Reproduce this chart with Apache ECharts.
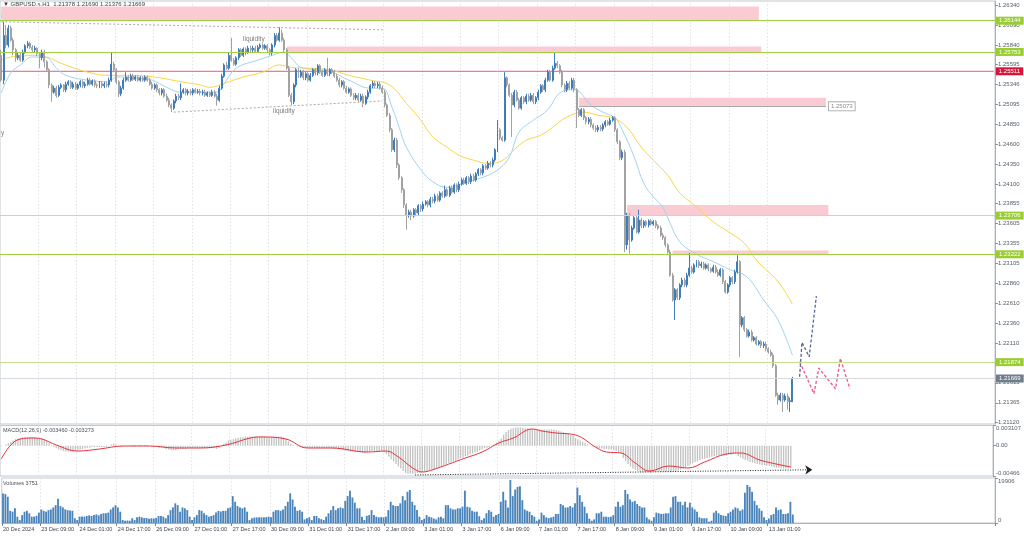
<!DOCTYPE html>
<html><head><meta charset="utf-8">
<script src="https://cdn.jsdelivr.net/npm/echarts@6/dist/echarts.min.js"></script>
<style>html,body{margin:0;padding:0;background:#fff;}#c{width:1024px;height:537px;}</style>
</head><body><div id="c"></div>
<script>
// ---------- DATA ----------
const timeLabels = ["20 Dec 2024","23 Dec 09:00","24 Dec 01:00","24 Dec 17:00","26 Dec 09:00","27 Dec 01:00","27 Dec 17:00","30 Dec 09:00","31 Dec 01:00","31 Dec 17:00","2 Jan 09:00","3 Jan 01:00","3 Jan 17:00","6 Jan 09:00","7 Jan 01:00","7 Jan 17:00","8 Jan 09:00","9 Jan 01:00","9 Jan 17:00","10 Jan 09:00","13 Jan 01:00"];
const barsPerLabel = 16;
const slotCount = 415;

// [open, close, low, high]
const candles = [
[1.2571,1.2540,1.2538,1.2578],[1.2540,1.2596,1.2535,1.2613],[1.2596,1.2584,1.2580,1.2609],[1.2584,1.2605,1.2581,1.2609],[1.2605,1.2590,1.2588,1.2608],
[1.2590,1.2578,1.2571,1.2593],[1.2578,1.2568,1.2563,1.2580],[1.2568,1.2571,1.2565,1.2575],[1.2571,1.2565,1.2563,1.2574],[1.2565,1.2575,1.2563,1.2578],
[1.2575,1.2583,1.2573,1.2585],[1.2583,1.2586,1.2580,1.2589],[1.2586,1.2581,1.2579,1.2588],[1.2581,1.2578,1.2575,1.2584],[1.2578,1.2580,1.2574,1.2583],
[1.2580,1.2573,1.2570,1.2581],[1.2573,1.2568,1.2555,1.2575],[1.2568,1.2575,1.2565,1.2578],[1.2575,1.2563,1.2556,1.2578],[1.2563,1.2553,1.2550,1.2565],
[1.2553,1.2534,1.2530,1.2555],[1.2534,1.2525,1.2513,1.2536],[1.2525,1.2530,1.2523,1.2533],[1.2530,1.2521,1.2518,1.2533],[1.2521,1.2531,1.2519,1.2534],
[1.2531,1.2534,1.2529,1.2536],[1.2534,1.2528,1.2525,1.2535],[1.2528,1.2535,1.2525,1.2538],[1.2535,1.2538,1.2533,1.2540],[1.2538,1.2531,1.2529,1.2540],
[1.2531,1.2535,1.2529,1.2538],[1.2535,1.2530,1.2528,1.2538],[1.2530,1.2534,1.2528,1.2536],[1.2534,1.2538,1.2531,1.2540],[1.2538,1.2533,1.2530,1.2540],
[1.2533,1.2535,1.2530,1.2538],[1.2535,1.2540,1.2533,1.2543],[1.2540,1.2535,1.2533,1.2543],[1.2535,1.2539,1.2533,1.2541],[1.2539,1.2534,1.2531,1.2541],
[1.2534,1.2533,1.2530,1.2536],[1.2533,1.2536,1.2530,1.2539],[1.2536,1.2533,1.2530,1.2539],[1.2533,1.2535,1.2530,1.2538],[1.2535,1.2534,1.2531,1.2538],
[1.2534,1.2540,1.2531,1.2543],[1.2540,1.2560,1.2538,1.2574],[1.2560,1.2553,1.2550,1.2563],[1.2553,1.2538,1.2535,1.2555],[1.2538,1.2523,1.2519,1.2540],
[1.2523,1.2530,1.2520,1.2533],[1.2530,1.2540,1.2528,1.2543],[1.2540,1.2544,1.2538,1.2550],[1.2544,1.2540,1.2538,1.2546],[1.2540,1.2545,1.2538,1.2548],
[1.2545,1.2541,1.2539,1.2548],[1.2541,1.2544,1.2539,1.2546],[1.2544,1.2540,1.2538,1.2546],[1.2540,1.2543,1.2538,1.2545],[1.2543,1.2540,1.2538,1.2545],
[1.2540,1.2544,1.2538,1.2546],[1.2544,1.2540,1.2538,1.2546],[1.2540,1.2535,1.2533,1.2543],[1.2535,1.2530,1.2528,1.2538],[1.2530,1.2534,1.2528,1.2536],
[1.2534,1.2528,1.2525,1.2536],[1.2528,1.2524,1.2521,1.2530],[1.2524,1.2528,1.2521,1.2530],[1.2528,1.2520,1.2518,1.2530],[1.2520,1.2515,1.2513,1.2523],
[1.2515,1.2509,1.2506,1.2518],[1.2509,1.2505,1.2500,1.2511],[1.2505,1.2514,1.2503,1.2516],[1.2514,1.2520,1.2511,1.2523],[1.2520,1.2518,1.2515,1.2523],
[1.2518,1.2525,1.2515,1.2536],[1.2525,1.2528,1.2523,1.2530],[1.2528,1.2524,1.2521,1.2530],[1.2524,1.2526,1.2521,1.2529],[1.2526,1.2524,1.2521,1.2529],
[1.2524,1.2528,1.2521,1.2530],[1.2528,1.2525,1.2523,1.2530],[1.2525,1.2526,1.2523,1.2529],[1.2526,1.2524,1.2521,1.2529],[1.2524,1.2525,1.2521,1.2528],
[1.2525,1.2521,1.2519,1.2528],[1.2521,1.2524,1.2519,1.2526],[1.2524,1.2521,1.2519,1.2526],[1.2521,1.2525,1.2519,1.2528],[1.2525,1.2520,1.2518,1.2528],
[1.2520,1.2515,1.2508,1.2523],[1.2515,1.2530,1.2513,1.2533],[1.2530,1.2545,1.2528,1.2548],[1.2545,1.2559,1.2543,1.2561],[1.2559,1.2555,1.2553,1.2563],
[1.2555,1.2571,1.2553,1.2574],[1.2571,1.2565,1.2563,1.2593],[1.2565,1.2560,1.2558,1.2568],[1.2560,1.2568,1.2558,1.2570],[1.2568,1.2578,1.2565,1.2580],
[1.2578,1.2571,1.2569,1.2580],[1.2571,1.2579,1.2569,1.2581],[1.2579,1.2575,1.2571,1.2581],[1.2575,1.2580,1.2573,1.2583],[1.2580,1.2578,1.2575,1.2583],
[1.2578,1.2580,1.2575,1.2583],[1.2580,1.2576,1.2574,1.2583],[1.2576,1.2581,1.2574,1.2584],[1.2581,1.2584,1.2579,1.2586],[1.2584,1.2580,1.2578,1.2586],
[1.2580,1.2583,1.2578,1.2585],[1.2583,1.2578,1.2575,1.2585],[1.2578,1.2574,1.2571,1.2580],[1.2574,1.2584,1.2571,1.2586],[1.2584,1.2596,1.2581,1.2599],
[1.2596,1.2590,1.2588,1.2599],[1.2590,1.2599,1.2588,1.2606],[1.2599,1.2590,1.2588,1.2603],[1.2590,1.2578,1.2575,1.2593],[1.2578,1.2555,1.2553,1.2580],
[1.2555,1.2521,1.2519,1.2558],[1.2521,1.2513,1.2509,1.2524],[1.2513,1.2534,1.2510,1.2536],[1.2534,1.2553,1.2531,1.2555],[1.2553,1.2545,1.2543,1.2555],
[1.2545,1.2550,1.2543,1.2553],[1.2550,1.2543,1.2540,1.2553],[1.2543,1.2548,1.2540,1.2550],[1.2548,1.2540,1.2538,1.2550],[1.2540,1.2546,1.2538,1.2549],
[1.2546,1.2553,1.2544,1.2555],[1.2553,1.2549,1.2546,1.2555],[1.2549,1.2558,1.2546,1.2560],[1.2558,1.2550,1.2548,1.2560],[1.2550,1.2546,1.2544,1.2553],
[1.2546,1.2553,1.2544,1.2555],[1.2553,1.2548,1.2545,1.2568],[1.2548,1.2553,1.2545,1.2555],[1.2553,1.2550,1.2548,1.2555],[1.2550,1.2545,1.2543,1.2553],
[1.2545,1.2540,1.2538,1.2548],[1.2540,1.2534,1.2531,1.2543],[1.2534,1.2538,1.2531,1.2540],[1.2538,1.2530,1.2528,1.2540],[1.2530,1.2525,1.2523,1.2533],
[1.2525,1.2529,1.2523,1.2531],[1.2529,1.2521,1.2519,1.2531],[1.2521,1.2518,1.2515,1.2524],[1.2518,1.2521,1.2515,1.2524],[1.2521,1.2515,1.2513,1.2524],
[1.2515,1.2520,1.2513,1.2523],[1.2520,1.2511,1.2506,1.2523],[1.2511,1.2519,1.2509,1.2521],[1.2519,1.2525,1.2516,1.2528],[1.2525,1.2533,1.2523,1.2535],
[1.2533,1.2536,1.2530,1.2539],[1.2536,1.2533,1.2530,1.2539],[1.2533,1.2535,1.2530,1.2538],[1.2535,1.2530,1.2528,1.2538],[1.2530,1.2525,1.2523,1.2533],
[1.2525,1.2509,1.2506,1.2528],[1.2509,1.2496,1.2494,1.2511],[1.2496,1.2478,1.2475,1.2499],[1.2478,1.2453,1.2450,1.2480],[1.2453,1.2465,1.2450,1.2468],
[1.2465,1.2434,1.2430,1.2468],[1.2434,1.2418,1.2415,1.2436],[1.2418,1.2403,1.2399,1.2420],[1.2403,1.2384,1.2380,1.2405],[1.2384,1.2371,1.2353,1.2386],
[1.2371,1.2375,1.2368,1.2378],[1.2375,1.2370,1.2365,1.2378],[1.2370,1.2378,1.2368,1.2380],[1.2378,1.2374,1.2370,1.2380],[1.2374,1.2383,1.2371,1.2385],
[1.2383,1.2379,1.2375,1.2385],[1.2379,1.2385,1.2376,1.2388],[1.2385,1.2388,1.2383,1.2390],[1.2388,1.2384,1.2381,1.2390],[1.2384,1.2391,1.2381,1.2394],
[1.2391,1.2389,1.2386,1.2394],[1.2389,1.2395,1.2386,1.2398],[1.2395,1.2390,1.2388,1.2398],[1.2390,1.2399,1.2388,1.2401],[1.2399,1.2395,1.2393,1.2401],
[1.2395,1.2403,1.2393,1.2408],[1.2403,1.2396,1.2394,1.2405],[1.2396,1.2405,1.2394,1.2408],[1.2405,1.2400,1.2398,1.2408],[1.2400,1.2409,1.2398,1.2411],
[1.2409,1.2403,1.2400,1.2411],[1.2403,1.2410,1.2400,1.2413],[1.2410,1.2415,1.2408,1.2418],[1.2415,1.2411,1.2409,1.2418],[1.2411,1.2418,1.2409,1.2420],
[1.2418,1.2413,1.2410,1.2420],[1.2413,1.2420,1.2410,1.2423],[1.2420,1.2415,1.2413,1.2423],[1.2415,1.2423,1.2413,1.2425],[1.2423,1.2428,1.2420,1.2430],
[1.2428,1.2424,1.2421,1.2430],[1.2424,1.2433,1.2421,1.2435],[1.2433,1.2430,1.2428,1.2435],[1.2430,1.2436,1.2428,1.2439],[1.2436,1.2434,1.2431,1.2439],
[1.2434,1.2440,1.2431,1.2443],[1.2440,1.2453,1.2438,1.2455],[1.2453,1.2478,1.2450,1.2490],[1.2478,1.2468,1.2465,1.2480],[1.2468,1.2465,1.2463,1.2470],
[1.2465,1.2543,1.2463,1.2550],[1.2543,1.2534,1.2531,1.2545],[1.2534,1.2521,1.2519,1.2536],[1.2521,1.2509,1.2469,1.2524],[1.2509,1.2525,1.2506,1.2528],
[1.2525,1.2515,1.2513,1.2528],[1.2515,1.2505,1.2503,1.2518],[1.2505,1.2518,1.2503,1.2520],[1.2518,1.2513,1.2510,1.2520],[1.2513,1.2520,1.2510,1.2523],
[1.2520,1.2515,1.2513,1.2523],[1.2515,1.2521,1.2513,1.2524],[1.2521,1.2513,1.2510,1.2524],[1.2513,1.2518,1.2510,1.2520],[1.2518,1.2525,1.2515,1.2528],
[1.2525,1.2533,1.2523,1.2535],[1.2533,1.2528,1.2525,1.2535],[1.2528,1.2540,1.2525,1.2543],[1.2540,1.2550,1.2538,1.2553],[1.2550,1.2540,1.2538,1.2553],
[1.2540,1.2555,1.2538,1.2558],[1.2555,1.2561,1.2553,1.2575],[1.2561,1.2558,1.2555,1.2564],[1.2558,1.2550,1.2548,1.2560],[1.2550,1.2534,1.2531,1.2553],
[1.2534,1.2528,1.2525,1.2536],[1.2528,1.2536,1.2525,1.2539],[1.2536,1.2530,1.2528,1.2539],[1.2530,1.2540,1.2528,1.2543],[1.2540,1.2528,1.2525,1.2543],
[1.2528,1.2503,1.2480,1.2530],[1.2503,1.2496,1.2494,1.2505],[1.2496,1.2503,1.2494,1.2505],[1.2503,1.2493,1.2490,1.2505],[1.2493,1.2488,1.2485,1.2495],
[1.2488,1.2491,1.2485,1.2494],[1.2491,1.2484,1.2481,1.2494],[1.2484,1.2480,1.2478,1.2486],[1.2480,1.2478,1.2475,1.2483],[1.2478,1.2481,1.2475,1.2484],
[1.2481,1.2479,1.2476,1.2484],[1.2479,1.2484,1.2476,1.2486],[1.2484,1.2488,1.2481,1.2490],[1.2488,1.2485,1.2483,1.2490],[1.2485,1.2490,1.2483,1.2493],
[1.2490,1.2493,1.2488,1.2495],[1.2493,1.2478,1.2475,1.2495],[1.2478,1.2463,1.2460,1.2480],[1.2463,1.2443,1.2440,1.2465],[1.2443,1.2450,1.2440,1.2453],
[1.2450,1.2334,1.2325,1.2453],[1.2334,1.2371,1.2328,1.2374],[1.2371,1.2340,1.2323,1.2374],[1.2340,1.2355,1.2338,1.2358],[1.2355,1.2368,1.2353,1.2370],
[1.2368,1.2350,1.2348,1.2370],[1.2350,1.2365,1.2348,1.2378],[1.2365,1.2358,1.2355,1.2368],[1.2358,1.2363,1.2355,1.2365],[1.2363,1.2359,1.2356,1.2365],
[1.2359,1.2364,1.2356,1.2366],[1.2364,1.2360,1.2358,1.2366],[1.2360,1.2363,1.2358,1.2365],[1.2363,1.2358,1.2355,1.2365],[1.2358,1.2355,1.2353,1.2360],
[1.2355,1.2346,1.2344,1.2358],[1.2346,1.2343,1.2340,1.2349],[1.2343,1.2334,1.2331,1.2345],[1.2334,1.2325,1.2323,1.2336],[1.2325,1.2296,1.2294,1.2328],
[1.2296,1.2265,1.2263,1.2299],[1.2265,1.2278,1.2240,1.2280],[1.2278,1.2268,1.2265,1.2280],[1.2268,1.2284,1.2265,1.2286],[1.2284,1.2290,1.2281,1.2293],
[1.2290,1.2284,1.2281,1.2293],[1.2284,1.2296,1.2281,1.2299],[1.2296,1.2305,1.2294,1.2324],[1.2305,1.2300,1.2298,1.2308],[1.2300,1.2309,1.2298,1.2311],
[1.2309,1.2313,1.2306,1.2315],[1.2313,1.2308,1.2305,1.2315],[1.2308,1.2310,1.2305,1.2313],[1.2310,1.2305,1.2303,1.2313],[1.2305,1.2309,1.2303,1.2311],
[1.2309,1.2304,1.2301,1.2311],[1.2304,1.2301,1.2299,1.2306],[1.2301,1.2306,1.2299,1.2309],[1.2306,1.2300,1.2298,1.2309],[1.2300,1.2296,1.2294,1.2303],
[1.2296,1.2303,1.2294,1.2305],[1.2303,1.2288,1.2285,1.2305],[1.2288,1.2275,1.2273,1.2290],[1.2275,1.2284,1.2273,1.2286],[1.2284,1.2293,1.2281,1.2295],
[1.2293,1.2288,1.2285,1.2295],[1.2288,1.2300,1.2285,1.2303],[1.2300,1.2313,1.2298,1.2321],[1.2313,1.2234,1.2194,1.2315],[1.2234,1.2243,1.2231,1.2245],
[1.2243,1.2228,1.2225,1.2245],[1.2228,1.2220,1.2218,1.2230],[1.2220,1.2225,1.2218,1.2228],[1.2225,1.2215,1.2213,1.2228],[1.2215,1.2218,1.2213,1.2220],
[1.2218,1.2210,1.2208,1.2220],[1.2210,1.2213,1.2208,1.2215],[1.2213,1.2208,1.2205,1.2215],[1.2208,1.2210,1.2205,1.2213],[1.2210,1.2204,1.2201,1.2213],
[1.2204,1.2200,1.2198,1.2206],[1.2200,1.2196,1.2194,1.2203],[1.2196,1.2183,1.2180,1.2199],[1.2183,1.2146,1.2144,1.2185],[1.2146,1.2140,1.2134,1.2149],
[1.2140,1.2146,1.2138,1.2149],[1.2146,1.2140,1.2125,1.2149],[1.2140,1.2145,1.2138,1.2148],[1.2145,1.2138,1.2128,1.2148],[1.2138,1.2139,1.2125,1.2143],
[1.21378,1.21669,1.21376,1.21690]
];

const volumes = [
13100,12800,11600,5400,5000,6500,2800,1300,3500,5000,5400,4300,2800,2800,3200,4600,6000,5400,5000,5700,6000,6900,7900,
10700,7500,6900,6000,5700,5500,
5400,2100,1300,2800,2900,2800,3100,3400,3100,3500,3800,3400,4000,4300,4300,4600,6000,6900,7900,6900,5000,1300,1000,1100,
1000,2100,1300,2500,2800,2500,2200,2200,1900,2100,2000,
2200,3100,3100,2800,2100,3500,5700,6900,8700,7900,5000,6900,6500,5700,2800,1300,2500,3500,5700,5400,4300,3500,2800,3100,
3500,4600,5300,5100,5400,5400,6500,6900,11900,9400,7500,6900,6500,6900,5000,1300,2100,2400,2500,2500,2500,
2500,2600,2800,2500,5000,5700,5700,5400,6000,7500,9400,13100,10400,7200,5400,5700,5000,1600,2100,2500,1300,3100,3100,2100,1700,
1300,2800,4300,5700,7500,5700,6500,6900,6500,9800,11900,14300,11300,9000,6500,6500,2800,1300,3200,3500,5700,3500,2800,2500,2600,
2500,2800,5700,9400,7900,7500,7500,8700,11900,10100,13800,14600,9400,7900,5700,2800,1300,1900,3500,2800,2500,2000,
1600,2500,2800,2100,7900,7900,6500,6000,6000,6500,6500,7200,14300,7200,6900,5400,5000,5000,3000,
1300,2100,4300,5700,5000,2800,3500,4000,
9400,13800,10100,6900,19000,11900,14800,16000,16300,10100,6000,5400,5000,3500,2800,1000,1600,4600,3500,2500,2200,
2400,2800,4000,4000,8400,7900,6900,6900,7500,6900,8700,15700,12300,9400,7200,4300,1900,1000,1600,4300,4300,5000,2800,2800,2600,
2800,3500,7200,9400,7200,7900,14600,12800,10400,9400,9800,8400,7500,6900,6900,2500,1600,1000,2500,4600,4300,4000,4100,
4300,4300,6900,11600,11900,9400,9400,7900,9400,6900,9000,6900,6000,5000,2500,2100,2100,2100,600,1000,4600,5400,4300,3500,3300,
3100,4300,5000,6000,6900,6500,5400,6000,13400,16800,16000,13800,9800,7900,6500,5400,2500,1300,2000,
3500,4000,6900,5700,6000,4000,4000,4300,9400,3751
];

const macdMain = [
-0.0001,0,0.0002,0.0004,0.0006,0.0008,0.0010,0.0011,0.0012,0.0013,0.0013,0.0013,0.0013,0.0013,0.0013,0.0012,0.0012,0.0011,0.0009,0.0007,0.0004,0.0001,
-0.0002,-0.0004,-0.0006,-0.0007,-0.0008,-0.0009,-0.0009,-0.0009,-0.0009,-0.0008,-0.0007,-0.0006,-0.0005,-0.0004,-0.0003,-0.0003,-0.0002,-0.0002,-0.0002,-0.0002,-0.0002,-0.0002,-0.0002,-0.0001,
0.0002,0.0003,0.0002,0,-0.0001,-0.0001,0,0,0.0001,0.0001,0.0001,0.0001,0.0001,0.0001,0.0001,0.0001,
0,-0.0001,-0.0001,-0.0002,-0.0003,-0.0003,-0.0004,-0.0005,-0.0006,-0.0007,-0.0007,-0.0007,-0.0006,-0.0005,-0.0005,-0.0005,-0.0004,-0.0004,-0.0004,-0.0004,-0.0004,-0.0004,-0.0004,-0.0004,-0.0004,-0.0004,-0.0004,-0.0004,-0.0005,-0.0003,
0,0.0003,0.0005,0.0008,0.0009,0.0010,0.0011,0.0012,0.0013,0.0013,0.0014,0.0014,0.0014,0.0014,0.0014,0.0014,0.0014,0.0014,0.0014,0.0013,0.0013,0.0013,0.0014,0.0014,0.0014,0.0014,0.0013,0.0011,0.0007,0.0003,0.0001,0,
-0.0001,-0.0002,-0.0003,-0.0003,-0.0004,-0.0004,-0.0004,-0.0004,-0.0004,-0.0004,-0.0004,-0.0004,-0.0004,-0.0004,-0.0004,-0.0005,-0.0005,-0.0006,-0.0006,-0.0007,-0.0008,-0.0008,-0.0009,-0.0009,-0.0010,-0.0010,-0.0010,-0.0011,-0.0011,-0.0010,-0.0009,-0.0008,-0.0008,-0.0008,-0.0008,-0.0008,
-0.0010,-0.0013,-0.0017,-0.0021,-0.0024,-0.0028,-0.0032,-0.0035,-0.0039,-0.0042,-0.0043,-0.0043,-0.0043,-0.0043,-0.0042,-0.0042,-0.0041,-0.0040,-0.0039,-0.0038,-0.0037,-0.0036,-0.0035,-0.0033,-0.0032,-0.0030,-0.0029,-0.0027,-0.0026,-0.0024,-0.0023,-0.0021,-0.0019,-0.0018,-0.0016,-0.0015,-0.0013,-0.0012,-0.0010,-0.0009,-0.0007,-0.0006,-0.0004,-0.0003,-0.0002,-0.0001,
0.0002,0.0005,0.0008,0.0011,0.0017,0.0021,0.0024,0.0026,0.0027,0.0028,0.0028,0.0028,0.0028,0.0027,0.0027,0.0026,0.0026,0.0025,0.0025,0.0025,0.0025,0.0025,0.0025,0.0025,0.0025,0.0025,0.0024,0.0023,0.0022,0.0021,0.0020,0.0019,0.0017,0.0015,
0.0012,0.0010,0.0008,0.0006,0.0004,0.0002,0,-0.0001,-0.0002,-0.0003,-0.0004,-0.0004,-0.0005,-0.0005,-0.0006,-0.0006,-0.0007,-0.0008,-0.0010,-0.0012,
-0.0019,-0.0024,-0.0028,-0.0032,-0.0035,-0.0037,-0.0039,-0.0040,-0.0041,-0.0041,-0.0041,-0.0041,-0.0041,-0.0040,-0.0040,-0.0040,-0.0040,-0.0040,-0.0040,-0.0040,-0.0041,-0.0040,-0.0039,-0.0038,-0.0037,-0.0035,-0.0033,-0.0031,-0.0029,-0.0027,-0.0025,-0.0024,-0.0022,-0.0021,-0.0020,-0.0019,-0.0018,-0.0017,-0.0016,-0.0015,-0.0015,-0.0015,-0.0015,-0.0015,-0.0014,-0.0014,-0.0013,-0.0012,
-0.0016,-0.0018,-0.0020,-0.0022,-0.0023,-0.0025,-0.0026,-0.0027,-0.0028,-0.0029,-0.0030,-0.0030,-0.0031,-0.0031,-0.0032,-0.0033,-0.0034,-0.0034,-0.0035,-0.0035,-0.0035,-0.0035,-0.003460
];

// [bar index, value]
const macdSignal = [[0,-0.00205],[4,0.00011],[8,0.00103],[13,0.00118],[17,0.00103],[23,0.00011],[32,-0.00082],[41,-0.00051],[51,-0.00005],[62,-0.00005],[73,-0.00035],[83,-0.00035],[94,0.00011],[104,0.00118],[109,0.00134],[119,0.00103],[128,-0.00035],[138,-0.00035],[153,-0.00097],[161,-0.00082],[166,-0.00174],[172,-0.00343],[176,-0.00404],[180,-0.00374],[194,-0.00189],[201,-0.00097],[208,0.00042],[214,0.00118],[222,0.00257],[226,0.00226],[232,0.00195],[240,0.00165],[249,-0.00035],[253,-0.00097],[259,-0.00112],[265,-0.00266],[271,-0.00389],[279,-0.00312],[287,-0.00343],[294,-0.00251],[303,-0.00128],[309,-0.00112],[317,-0.0022],[322,-0.00266],[330,-0.003273]];

const maFast = [[0,1.2524],[4,1.2549],[8,1.2559],[13,1.2569],[19,1.2568],[23,1.2555],[27,1.2546],[36,1.2540],[45,1.2538],[48,1.2544],[55,1.2543],[63,1.2540],[69,1.2531],[75,1.2525],[83,1.2525],[90,1.2525],[93,1.2536],[98,1.2555],[107,1.2565],[113,1.2571],[118,1.2575],[121,1.2568],[125,1.2556],[132,1.2553],[138,1.2550],[145,1.2540],[154,1.2530],[159,1.2530],[163,1.2506],[166,1.2481],[169,1.2456],[175,1.2428],[180,1.2413],[186,1.2406],[191,1.2409],[197,1.2415],[203,1.2421],[208,1.2430],[212,1.2444],[216,1.2475],[222,1.2490],[228,1.2503],[233,1.2524],[239,1.2528],[246,1.2509],[251,1.2500],[256,1.2493],[259,1.2478],[264,1.2444],[268,1.2411],[272,1.2394],[276,1.2381],[279,1.2361],[283,1.2338],[289,1.2324],[297,1.2313],[304,1.2303],[311,1.2294],[318,1.2265],[324,1.2240],[330,1.2196]];

const maSlow = [[0,1.2565],[4,1.2569],[8,1.2570],[13,1.2571],[19,1.2569],[25,1.2561],[36,1.2550],[45,1.2546],[55,1.2546],[66,1.2543],[75,1.2538],[83,1.2534],[87,1.2531],[93,1.2536],[101,1.2544],[109,1.2550],[116,1.2559],[121,1.2556],[128,1.2555],[137,1.2553],[145,1.2546],[154,1.2540],[162,1.2534],[169,1.2511],[175,1.2490],[180,1.2469],[186,1.2456],[191,1.2446],[197,1.2440],[203,1.2436],[208,1.2438],[214,1.2453],[219,1.2465],[225,1.2471],[230,1.2481],[236,1.2494],[243,1.2500],[249,1.2496],[255,1.2493],[261,1.2481],[267,1.2456],[272,1.2440],[278,1.2421],[283,1.2399],[289,1.2384],[296,1.2365],[304,1.2349],[310,1.2336],[315,1.2315],[324,1.2288],[330,1.2260]];

const priceTicks = [1.21120,1.21365,1.21615,1.21865,1.22110,1.22360,1.22610,1.22860,1.23105,1.23355,1.23605,1.23855,1.24100,1.24350,1.24600,1.24850,1.25095,1.25346,1.25595,1.25840,1.26090,1.26340];
const macdTicks = [-0.00466, 0, 0.003107];
const macdTickText = ['-0.00466','0.00','0.003107'];
const volumeTicks = [0, 19906];

const greenLevels = [1.26144, 1.25753, 1.23706, 1.23222, 1.21874];
const redLevel = 1.25511;
const bidLevel = 1.21669;
const zoneLevel = 1.25073;
// [startBar, endBar, low, high]
const zones = [[0,316,1.2614,1.2632],[119,317,1.25753,1.2582],[241,344,1.25073,1.2518],[261,345,1.23706,1.2384],[280,345,1.23222,1.2327]];
const liquidityHigh = [[0,1.2613],[159,1.2603]];
const liquidityLow = [[72,1.2500],[159,1.2514]];
const projectionUp = [[333,1.2169],[334,1.2212],[337,1.2194],[340,1.2270]];
const projectionDown = [[333,1.2188],[339,1.2148],[341,1.2180],[348,1.2154],[350,1.2192],[354,1.2154]];
const macdArrow = [[173,-0.0045],[339,-0.0037]];

// ---------- CHART ----------
const FONT = 'Liberation Sans';
const slots = Array.from({length: slotCount}, (_, i) => String(i));
const isLabelSlot = (i) => i % barsPerLabel === 0 && (i / barsPerLabel) < timeLabels.length;
const gridColor = '#c3c9cf';
const axisCol = '#a9b1b9';
const labelCol = '#56606a';

function xAx(grid, showLabels) {
  return {
    type: 'category', gridIndex: grid, data: slots, boundaryGap: true,
    axisLine: {show: showLabels, lineStyle: {color: axisCol}},
    axisTick: {show: showLabels, length: 3, interval: (i) => isLabelSlot(i), lineStyle: {color: '#7d858d'}},
    axisLabel: {show: showLabels, interval: (i) => isLabelSlot(i), formatter: (v, i) => timeLabels[i / barsPerLabel] || '',
      align: 'left', fontSize: 5.5, color: '#3c444c', margin: 3, fontFamily: FONT},
    splitLine: {show: true, interval: (i) => isLabelSlot(i) && i > 0, lineStyle: {color: '#dfe3ea', type: [1.5, 2], width: 1}}
  };
}

const lvlLabel = (bg, fg, txt) => ({show: true, position: 'end', distance: 1, formatter: txt,
  backgroundColor: bg, color: fg, fontSize: 6, padding: [1, 3, 1, 3], fontFamily: FONT});

const greenLines = greenLevels.map((v, k) => ({yAxis: v,
  lineStyle: {color: (k === 2 || k === 4) ? '#c6e08e' : '#a2d045'},
  label: lvlLabel('#9acd32', '#ffffff', v.toFixed(5))}));
const bidLines = [
  {yAxis: bidLevel, lineStyle: {color: '#d6d9dc'}, label: lvlLabel('#6f7c8a', '#ffffff', bidLevel.toFixed(5))},
  [{coord: [zones[2][0], zoneLevel]},
   {coord: [zones[2][1], zoneLevel], lineStyle: {color: '#a9a9a9'},
    label: {show: true, position: 'end', distance: 3, formatter: zoneLevel.toFixed(5), color: '#8a8a8a', fontSize: 6,
      backgroundColor: '#ffffff', borderColor: '#b0b0b0', borderWidth: 1, padding: [1, 2, 1, 2], fontFamily: FONT}}]
];

const option = {
  animation: false,
  backgroundColor: '#ffffff',
  textStyle: {fontFamily: FONT},
  grid: [
    {left: 0, right: 29, top: 1, height: 423, show: true, borderColor: gridColor, borderWidth: 1, backgroundColor: '#fff'},
    {left: 0, right: 29, top: 425.5, height: 50.5, show: true, borderColor: gridColor, borderWidth: 1},
    {left: 0, right: 29, top: 478, height: 45, show: true, borderColor: gridColor, borderWidth: 1}
  ],
  xAxis: [xAx(0, false), xAx(1, false), xAx(2, true)],
  yAxis: [
    {type: 'value', gridIndex: 0, position: 'right', min: 1.2110, max: 1.2639, scale: true,
      axisLine: {show: true, lineStyle: {color: axisCol}},
      axisTick: {show: true, length: 3, customValues: priceTicks, lineStyle: {color: '#8a929a'}},
      axisLabel: {customValues: priceTicks, formatter: (v) => v.toFixed(5), fontSize: 6, color: labelCol, margin: 3, fontFamily: FONT},
      splitLine: {show: false}},
    {type: 'value', gridIndex: 1, position: 'right', min: -0.00466, max: 0.003107,
      axisLine: {show: true, lineStyle: {color: axisCol}},
      axisTick: {show: true, length: 3, customValues: macdTicks, lineStyle: {color: '#8a929a'}},
      axisLabel: {customValues: macdTicks, formatter: (v) => macdTickText[macdTicks.indexOf(v)] ?? String(v),
        verticalAlignMinLabel: 'bottom', verticalAlignMaxLabel: 'top', fontSize: 6, color: labelCol, margin: 3, fontFamily: FONT},
      splitLine: {show: false}},
    {type: 'value', gridIndex: 2, position: 'right', min: 0, max: 19906,
      axisLine: {show: true, lineStyle: {color: axisCol}},
      axisTick: {show: true, length: 3, customValues: volumeTicks, lineStyle: {color: '#8a929a'}},
      axisLabel: {customValues: volumeTicks, formatter: (v) => String(v),
        verticalAlignMinLabel: 'bottom', verticalAlignMaxLabel: 'top', fontSize: 6, color: labelCol, margin: 3, fontFamily: FONT},
      splitLine: {show: false}}
  ],
  series: [
    {type: 'candlestick', xAxisIndex: 0, yAxisIndex: 0, data: candles, barWidth: '62%', z: 3,
      itemStyle: {color: '#3d7dbd', color0: '#a2a2a2', borderColor: '#3d7dbd', borderColor0: '#a2a2a2', borderWidth: 1},
      markArea: {silent: true, itemStyle: {color: '#fbcbd4', opacity: 1},
        data: zones.map(z => [{xAxis: z[0], yAxis: z[3]}, {xAxis: z[1], yAxis: z[2]}])}
    },
    {type: 'line', xAxisIndex: 0, yAxisIndex: 0, data: maFast, smooth: 0.4, showSymbol: false, z: 3,
      lineStyle: {color: '#9fd4ef', width: 1},
      markLine: {silent: true, symbol: 'none', animation: false, precision: 5,
        lineStyle: {color: '#a2d045', width: 1, type: 'solid', opacity: 1}, data: greenLines}},
    {type: 'line', xAxisIndex: 0, yAxisIndex: 0, data: maSlow, smooth: 0.4, showSymbol: false, z: 3,
      lineStyle: {color: '#f9d648', width: 1}},
    {type: 'line', xAxisIndex: 0, yAxisIndex: 0, data: [[0, redLevel], [slotCount - 1, redLevel]], showSymbol: false, z: 2,
      color: '#ea5a74', lineStyle: {color: '#ea5a74', width: 1, type: 'solid'},
      endLabel: {show: true, formatter: redLevel.toFixed(5), distance: 2, backgroundColor: '#dc143c', color: '#ffffff',
        fontSize: 6, padding: [1, 3, 1, 3], fontFamily: FONT}},
    {type: 'line', xAxisIndex: 0, yAxisIndex: 0, data: liquidityHigh, showSymbol: false,
      lineStyle: {color: '#a8a8a8', width: 1, type: [2, 2]},
      markLine: {silent: true, symbol: 'none', animation: false, precision: 5,
        lineStyle: {color: '#d6d9dc', width: 1, type: 'solid', opacity: 1}, data: bidLines}},
    {type: 'line', xAxisIndex: 0, yAxisIndex: 0, data: liquidityLow, showSymbol: false,
      lineStyle: {color: '#a8a8a8', width: 1, type: [2, 2]}},
    {type: 'line', xAxisIndex: 0, yAxisIndex: 0, data: projectionUp, showSymbol: false, z: 4,
      lineStyle: {color: '#56649a', width: 1.3, type: [3, 2]}},
    {type: 'line', xAxisIndex: 0, yAxisIndex: 0, data: projectionDown, showSymbol: false, z: 4,
      lineStyle: {color: '#f0577f', width: 1.3, type: [3, 2]}},
    {type: 'bar', xAxisIndex: 1, yAxisIndex: 1, data: macdMain, barWidth: '55%',
      itemStyle: {color: '#c2c2c2'},
      markLine: {silent: true, symbol: ['none', 'arrow'], symbolSize: 7,
        lineStyle: {color: '#222222', width: 1, type: [1, 1.5]}, label: {show: false},
        data: [[{coord: macdArrow[0]}, {coord: macdArrow[1]}]]}},
    {type: 'line', xAxisIndex: 1, yAxisIndex: 1, data: macdSignal, smooth: 0.4, showSymbol: false,
      lineStyle: {color: '#e8323c', width: 1}},
    {type: 'bar', xAxisIndex: 2, yAxisIndex: 2, data: volumes, barWidth: '78%',
      itemStyle: {color: '#4a84ba'}}
  ],
  graphic: [
    {type: 'text', left: 3, top: 1, style: {text: '▼ GBPUSD.s,H1  1.21378 1.21690 1.21376 1.21669', fontSize: 6, fill: '#3a3f44', fontFamily: FONT}},
    {type: 'text', left: 1, top: 13, style: {text: 'liquidity', fontSize: 6.5, fill: '#7a7a7a', fontFamily: FONT}},
    {type: 'text', left: 243, top: 36, style: {text: 'liquidity', fontSize: 6.5, fill: '#7a7a7a', fontFamily: FONT}},
    {type: 'text', left: 273, top: 108, style: {text: 'liquidity', fontSize: 6.5, fill: '#7a7a7a', fontFamily: FONT}},
    {type: 'text', left: 1, top: 130, style: {text: 'y', fontSize: 6.5, fill: '#7a7a7a', fontFamily: FONT}},
    {type: 'text', left: 3, top: 427, style: {text: 'MACD(12,26,9) -0.003460 -0.003273', fontSize: 5.5, fill: '#4a5056', fontFamily: FONT}},
    {type: 'text', left: 3, top: 480, style: {text: 'Volumes 3751', fontSize: 5.5, fill: '#4a5056', fontFamily: FONT}}
  ]
};

const chart = echarts.init(document.getElementById('c'), null, {renderer: 'canvas'});
chart.setOption(option);
</script>
</body></html>
